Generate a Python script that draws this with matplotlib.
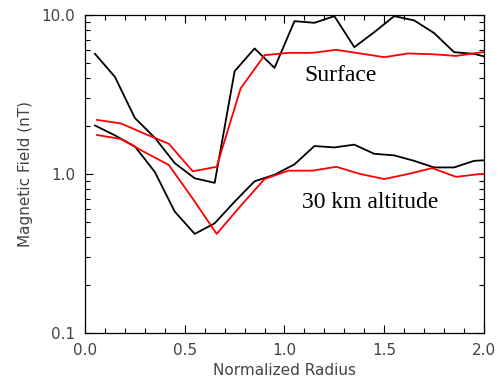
import numpy as np
import matplotlib
matplotlib.use('Agg')
import matplotlib.pyplot as plt
from matplotlib.ticker import FixedLocator, LogLocator, NullFormatter

# black curves sampled every 0.1, red curves every 0.12
r_black = [0.05, 0.15, 0.25, 0.35, 0.45, 0.55, 0.65, 0.75, 0.85, 0.95, 1.05,
           1.15, 1.25, 1.35, 1.45, 1.55, 1.65, 1.75, 1.85, 1.95, 2.05]
surf_black = [5.7, 4.08, 2.25, 1.69, 1.17, 0.94, 0.88, 4.43, 6.16, 4.65, 9.15,
              8.93, 9.84, 6.28, 7.8, 9.84, 9.25, 7.7, 5.84, 5.7, 5.3]
alt_black = [2.02, 1.75, 1.49, 1.03, 0.58, 0.42, 0.49, 0.67, 0.90, 0.99, 1.15,
             1.50, 1.47, 1.53, 1.34, 1.31, 1.21, 1.10, 1.10, 1.21, 1.23]

r_red = [0.06, 0.18, 0.30, 0.42, 0.54, 0.66, 0.78, 0.90, 1.02, 1.14, 1.26,
         1.38, 1.50, 1.62, 1.74, 1.86, 1.98, 2.10]
surf_red = [2.19, 2.08, 1.79, 1.55, 1.04, 1.11, 3.45, 5.59, 5.78, 5.78, 6.04,
            5.73, 5.43, 5.73, 5.67, 5.53, 5.81, 6.0]
alt_red = [1.76, 1.66, 1.37, 1.14, 0.70, 0.42, 0.63, 0.93, 1.05, 1.05, 1.11,
           1.0, 0.93, 1.0, 1.09, 0.96, 1.0, 1.0]

fig = plt.figure(figsize=(5.01, 3.83), dpi=100)
ax = fig.add_axes([0.1697, 0.1305, 0.7963, 0.8303])

ax.plot(r_black, surf_black, color='black', lw=1.3)
ax.plot(r_black, alt_black, color='black', lw=1.3)
ax.plot(r_red, surf_red, color='red', lw=1.3)
ax.plot(r_red, alt_red, color='red', lw=1.3)

ax.set_yscale('log')
ax.set_xlim(0, 2)
ax.set_ylim(0.1, 10)

ax.xaxis.set_major_locator(FixedLocator([0, 0.5, 1.0, 1.5, 2.0]))
ax.xaxis.set_minor_locator(FixedLocator(np.arange(0, 2.01, 0.1)))
ax.set_xticklabels(['0.0', '0.5', '1.0', '1.5', '2.0'])
ax.yaxis.set_major_locator(FixedLocator([0.1, 1.0, 10.0]))
ax.yaxis.set_minor_locator(LogLocator(base=10, subs=np.arange(2, 10)))
ax.yaxis.set_minor_formatter(NullFormatter())
ax.set_yticklabels(['0.1', '1.0', '10.0'])

lab = '#444444'
ax.tick_params(which='both', direction='in', top=True, right=True,
               labelsize=11, labelcolor=lab, width=0.8)
ax.tick_params(which='major', length=6, pad=7)
ax.tick_params(which='minor', length=3.5)
for s in ax.spines.values():
    s.set_linewidth(0.9)

ax.set_xlabel('Normalized Radius', fontsize=11, color=lab, labelpad=4)
ax.set_ylabel('Magnetic Field (nT)', fontsize=11, color=lab, labelpad=6)

ax.text(0.55, 0.81, 'Surface', transform=ax.transAxes, family='Liberation Serif',
        fontsize=17, va='center', ha='left')
ax.text(0.543, 0.409, '30 km altitude', transform=ax.transAxes,
        family='Liberation Serif', fontsize=17, va='center', ha='left')

fig.savefig('out.png', dpi=100)
